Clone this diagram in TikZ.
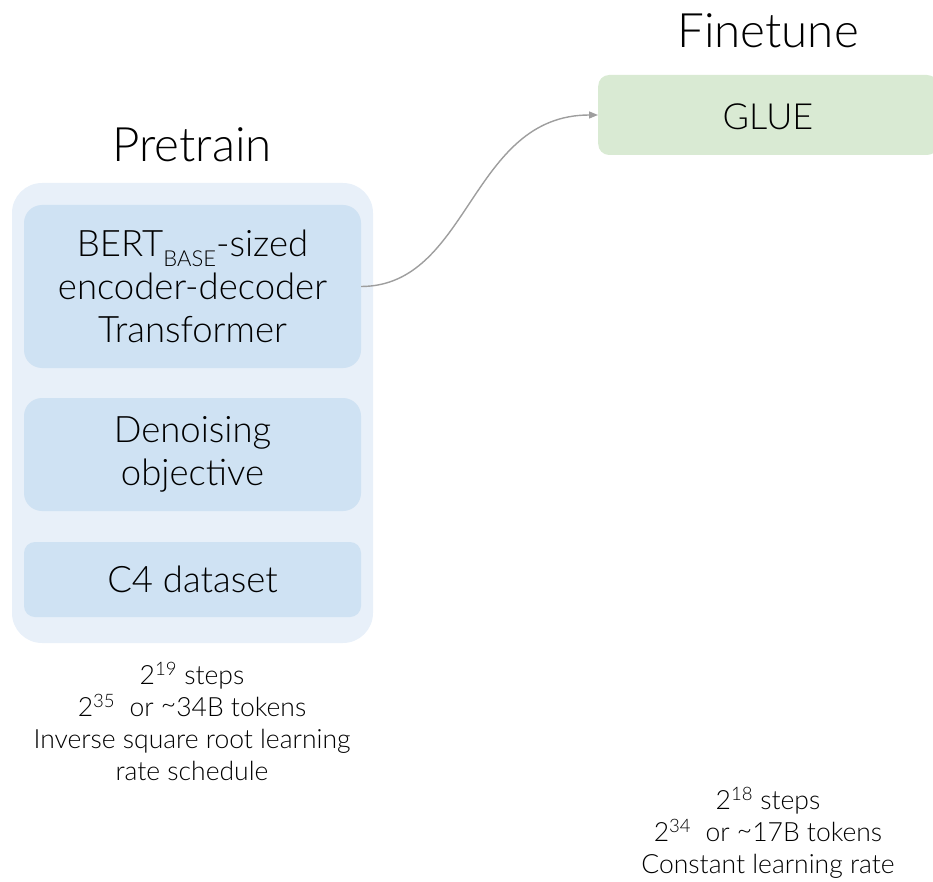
\documentclass[tikz,border=0pt]{standalone}
\usepackage{fontspec}
\setmainfont{Lato Light}
\usetikzlibrary{arrows.meta}
\definecolor{outerblue}{HTML}{E8F0F9}
\definecolor{innerblue}{HTML}{CFE2F3}
\definecolor{gluegreen}{HTML}{D9EAD3}
\definecolor{arrowgray}{HTML}{9E9E9E}
\tikzset{
  box/.style={fill=innerblue, rounded corners=18pt, minimum width=337pt, align=center, inner sep=0pt,
    font=\fontsize{36.5}{43}\selectfont},
  note/.style={align=center, font=\fontsize{26.5}{32}\selectfont, inner sep=0pt},
  title/.style={font=\fontsize{47.5}{50}\selectfont, inner sep=0pt},
}
\begin{document}
\begin{tikzpicture}[x=1pt,y=-1pt]
\useasboundingbox (0,0) rectangle (933,882);
% outer pretrain container
\node[fill=outerblue, rounded corners=30pt, minimum width=361pt, minimum height=460pt, inner sep=0pt] (outer) at (192.5,413) {};
\node[title] (pretrain) at (192,145) {Pretrain};
\node[title] (finetune) at (768,31) {Finetune};
\node[box, minimum height=163pt] (b1) at (192.5,286.5) {BERT\smash{\raisebox{-0.26em}{\fontsize{22}{22}\selectfont BASE}}-sized\\encoder-decoder\\Transformer};
\node[box, minimum height=113pt] (b2) at (192.5,454.5) {Denoising\\objective};
\node[box, minimum height=75pt, rounded corners=11pt] (b3) at (192.5,579.5) {C4 dataset};
\node[fill=gluegreen, rounded corners=11pt, minimum width=340pt, minimum height=80pt, inner sep=0pt, anchor=west] (glue) at (598,115) {};
\node[font=\fontsize{36}{43}\selectfont, inner sep=0pt] (gluetext) at (768,117) {GLUE};
\draw[arrowgray, line width=1.4pt, -{Triangle[length=9pt,width=7pt]}] (b1.east) .. controls (470,286) and (470,115) .. (glue.west);
\node[note] (pnote) at (192,721) {2\textsuperscript{19} steps\\2\textsuperscript{35}\ \ or {\raisebox{0.1em}{\char`\~}}34B tokens\\Inverse square root learning\\rate schedule};
\node[note] (fnote) at (768,833) {2\textsuperscript{18} steps\\2\textsuperscript{34}\ \ or {\raisebox{0.1em}{\char`\~}}17B tokens\\Constant learning rate};
\end{tikzpicture}
\end{document}
